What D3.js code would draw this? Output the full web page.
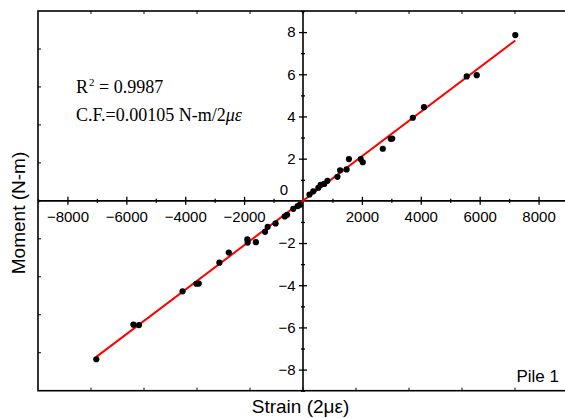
<!DOCTYPE html>
<html>
<head>
<meta charset="utf-8">
<script src="https://cdn.jsdelivr.net/npm/d3@7"></script>
<style>
  html, body { margin: 0; padding: 0; background: #fff; }
  svg { display: block; }
</style>
</head>
<body>
<svg id="chart" width="565" height="418"></svg>
<script>
// ---- data ----
const strain = [
  -7020, -5760, -5570, -4090, -3620, -3540, -2840, -2520, -1890, -1880,
  -1600, -1290, -1200, -930, -620, -540, -330, -180, -100,
  220, 350, 520, 600, 720, 830, 1170, 1260, 1480, 1560,
  1960, 2030, 2710, 2980, 3030, 3730, 4110, 5560, 5900, 7210
];
const moment = [
  -7.51, -5.87, -5.89, -4.29, -3.93, -3.92, -2.93, -2.45, -1.83, -1.98,
  -1.96, -1.47, -1.23, -1.07, -0.74, -0.66, -0.38, -0.25, -0.18,
  0.30, 0.45, 0.62, 0.76, 0.80, 0.95, 1.14, 1.45, 1.49, 1.98,
  1.98, 1.83, 2.47, 2.94, 2.95, 3.94, 4.44, 5.90, 5.96, 7.86
];
const fitStrain = [-7030, 7210];
const fitMoment = [-7.41, 7.60];
const xMajorTicks = [-8000, -6000, -4000, -2000, 2000, 4000, 6000, 8000];
const xMinorTicks = [-9000, -7000, -5000, -3000, -1000, 1000, 3000, 5000, 7000, 9000];
const yMajorTicks = [-8, -6, -4, -2, 2, 4, 6, 8];
const yMinorTicks = [-9, -7, -5, -3, -1, 1, 3, 5, 7, 9];
const xTitle = "Strain (2\u03BC\u03B5)";
const yTitle = "Moment (N-m)";
const r2Value = "0.9987";
const cfText = "C.F.=0.00105 N-m/2";
const panelLabel = "Pile 1";

// ---- layout ----
const L = 38, R = 568, T = 11, B = 390.7;
const svg = d3.select("#chart");
const sans = "'Liberation Sans', Arial, sans-serif";
const serif = "'Liberation Serif', 'Times New Roman', serif";

const x = d3.scaleLinear().domain([-9000, 9000]).range([L, R]);
const y = d3.scaleLinear().domain([-9, 9]).range([B, T]);

// frame
svg.append("rect").attr("x", L).attr("y", T).attr("width", R - L).attr("height", B - T)
  .attr("fill", "none").attr("stroke", "#000").attr("stroke-width", 1.6);

// frame inward ticks (10 divisions)
const fx = d3.scaleLinear().domain([0, 10]).range([L, R]);
const fy = d3.scaleLinear().domain([0, 10]).range([T, B]);
const fr = d3.range(1, 10);
const ft = svg.append("g").attr("stroke", "#000").attr("stroke-width", 1);
ft.selectAll(".ftt").data(fr).join("line").attr("x1", d => fx(d)).attr("x2", d => fx(d)).attr("y1", T).attr("y2", T + 3);
ft.selectAll(".ftb").data(fr).join("line").attr("x1", d => fx(d)).attr("x2", d => fx(d)).attr("y1", B).attr("y2", B - 3);
ft.selectAll(".ftl").data(fr).join("line").attr("y1", d => fy(d)).attr("y2", d => fy(d)).attr("x1", L).attr("x2", L + 3);

// x axis through y=0
const gx = svg.append("g").attr("transform", `translate(0,${y(0)})`);
gx.append("line").attr("x1", L).attr("x2", R).attr("stroke", "#000").attr("stroke-width", 1.6);
const xMaj = gx.append("g").call(d3.axisBottom(x).tickValues(xMajorTicks).tickSize(4).tickPadding(0).tickFormat(d3.format("d")));
xMaj.select(".domain").remove();
xMaj.selectAll(".tick line").attr("y1", -4).attr("y2", 4).attr("stroke-width", 1.3);
xMaj.selectAll(".tick text").attr("y", 21).attr("dy", 0)
  .attr("font-family", sans).attr("font-size", 15).attr("fill", "#000");
const xMin = gx.append("g").call(d3.axisBottom(x).tickValues(xMinorTicks).tickSize(2).tickFormat(""));
xMin.select(".domain").remove();
xMin.selectAll(".tick line").attr("y1", -2).attr("y2", 2).attr("stroke-width", 1.3);

// y axis through x=0
const gy = svg.append("g").attr("transform", `translate(${x(0)},0)`);
gy.append("line").attr("y1", T).attr("y2", B).attr("stroke", "#000").attr("stroke-width", 1.6);
const yMaj = gy.append("g").call(d3.axisLeft(y).tickValues(yMajorTicks).tickSize(4).tickFormat(d3.format("d")));
yMaj.select(".domain").remove();
yMaj.selectAll(".tick line").attr("x1", -4).attr("x2", 4).attr("stroke-width", 1.3);
yMaj.selectAll(".tick text").attr("x", -7.5).attr("dy", "0.32em")
  .attr("font-family", sans).attr("font-size", 15).attr("fill", "#000");
const yMin = gy.append("g").call(d3.axisLeft(y).tickValues(yMinorTicks).tickSize(2).tickFormat(""));
yMin.select(".domain").remove();
yMin.selectAll(".tick line").attr("x1", -2).attr("x2", 2).attr("stroke-width", 1.3);

// origin label
svg.append("text").attr("x", x(0) - 15).attr("y", y(0) - 6).attr("text-anchor", "end")
  .attr("font-family", sans).attr("font-size", 15).text("0");

// fit line
svg.append("path")
  .datum(fitStrain.map((s, i) => [s, fitMoment[i]]))
  .attr("d", d3.line().x(d => x(d[0])).y(d => y(d[1])))
  .attr("fill", "none").attr("stroke", "#ff0000").attr("stroke-width", 2);

// points
svg.append("g").selectAll("circle")
  .data(strain.map((s, i) => [s, moment[i]]))
  .join("circle")
  .attr("cx", d => x(d[0])).attr("cy", d => y(d[1])).attr("r", 3.1).attr("fill", "#000");

// annotations
const r2 = svg.append("text").attr("x", 76).attr("y", 93)
  .attr("font-family", serif).attr("font-size", 18).attr("fill", "#000");
r2.append("tspan").text("R");
r2.append("tspan").attr("font-size", 11).attr("dx", 1).attr("dy", -7).text("2");
r2.append("tspan").attr("dy", 7).text(" = " + r2Value);

const cf = svg.append("text").attr("x", 76).attr("y", 120.5)
  .attr("font-family", serif).attr("font-size", 18).attr("fill", "#000");
cf.append("tspan").text(cfText);
cf.append("tspan").attr("font-style", "italic").text("\u03BC\u03B5");

svg.append("text").attr("x", 559).attr("y", 381.5).attr("text-anchor", "end")
  .attr("font-family", sans).attr("font-size", 17).text(panelLabel);

// axis titles
svg.append("text").attr("x", 300.5).attr("y", 413).attr("text-anchor", "middle")
  .attr("font-family", sans).attr("font-size", 19).text(xTitle);
svg.append("text").attr("transform", "translate(25,213) rotate(-90)").attr("text-anchor", "middle")
  .attr("font-family", sans).attr("font-size", 19).text(yTitle);
</script>
</body>
</html>
